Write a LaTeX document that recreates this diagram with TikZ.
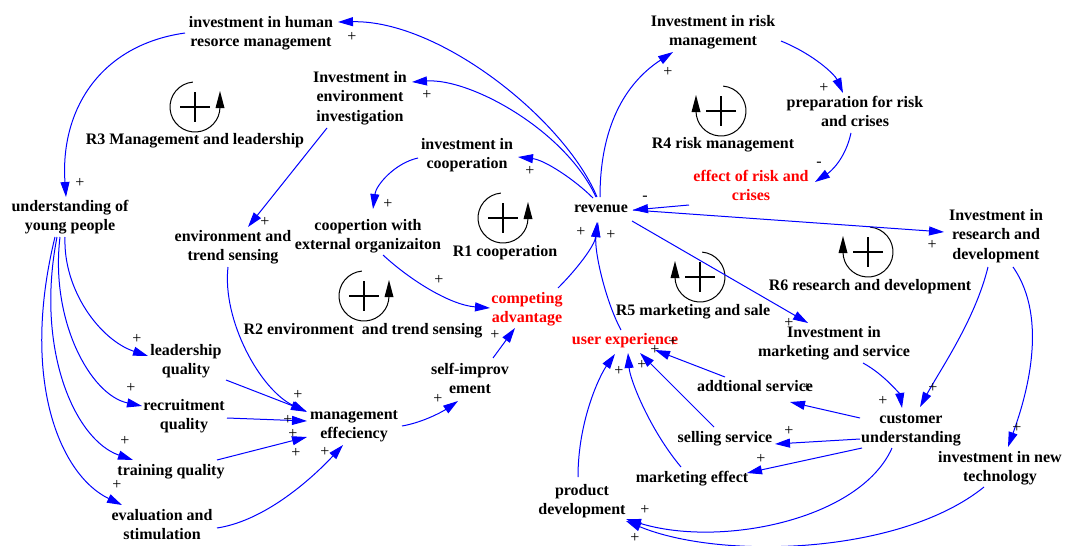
\documentclass[tikz,border=0pt]{standalone}
\usepackage{fontspec}
\setmainfont{Liberation Serif}
\usetikzlibrary{arrows.meta,calc}
\begin{document}
\begin{tikzpicture}[x=0.5pt,y=-0.5pt,
  varnode/.style={font=\bfseries\fontsize{8}{9.8}\selectfont, align=center, inner sep=0pt},
  rednode/.style={varnode, text=red},
  sign/.style={font=\fontsize{8}{9.8}\selectfont, inner sep=0pt},
  link/.style={draw=blue, line width=0.5pt, -{Triangle[length=7.5pt,width=4.5pt]}},
  loopsym/.pic={
    \draw[line width=0.5pt] (-95:25) arc[start angle=-95, end angle=-360, radius=25];
    \fill (25,-16) -- (20.5,1) -- (29.5,1) -- cycle;
    \draw[line width=1pt] (-15,0) -- (15,0) (0,-15) -- (0,15);
  }
]
\useasboundingbox (0,0) rectangle (1087,546);

% variables
\node[varnode] (hrm) at (261,33) {\strut investment in human\\\strut resorce management};
\node[varnode] (envinv) at (360,98) {\strut Investment in\\\strut environment\\\strut investigation};
\node[varnode] (coopinv) at (467,155) {\strut investment in\\\strut cooperation};
\node[varnode] (coopext) at (368,236) {\strut coopertion with\\\strut external organizaiton};
\node[varnode] (understand) at (70,217) {\strut understanding of\\\strut young people};
\node[varnode] (envsense) at (233,247) {\strut environment and\\\strut trend sensing};
\node[varnode] (revenue) at (601,209) {\strut revenue};
\node[rednode] (competing) at (527,309) {\strut competing\\\strut advantage};
\node[varnode] (selfimp) at (470,380) {\strut self-improv\\\strut ement};
\node[varnode] (mgmt) at (354,425) {\strut management\\\strut effeciency};
\node[varnode] (leadership) at (186,361) {\strut leadership\\\strut quality};
\node[varnode] (recruit) at (184,416) {\strut recruitment\\\strut quality};
\node[varnode] (training) at (171,472) {\strut training quality};
\node[varnode] (evalst) at (162,526) {\strut evaluation and\\\strut stimulation};
\node[varnode] (riskinv) at (713,32) {\strut Investment in risk\\\strut management};
\node[varnode] (prep) at (855,113) {\strut preparation for risk\\\strut and crises};
\node[rednode] (effect) at (751,187) {\strut effect of risk and\\\strut crises};
\node[varnode] (rdinv) at (996,236) {\strut Investment in\\\strut research and\\\strut development};
\node[varnode] (mktinv) at (834,343) {\strut Investment in\\\strut marketing and service};
\node[rednode] (userexp) at (625,341) {\strut user experience};
\node[varnode] (addserv) at (755,388) {\strut addtional service};
\node[varnode] (custund) at (911,429) {\strut customer\\\strut understanding};
\node[varnode] (selling) at (725,439) {\strut selling service};
\node[varnode] (mkteff) at (692,479) {\strut marketing effect};
\node[varnode] (proddev) at (582,501) {\strut product\\\strut development};
\node[varnode] (newtech) at (1000,468) {\strut investment in new\\\strut technology};

% loop symbols
\pic at (195,107) {loopsym};
\node[varnode] (lR3) at (195,141) {\strut R3 Management and leadership};
\pic at (503,218) {loopsym};
\node[varnode] (lR1) at (505,253) {\strut R1 cooperation};
\pic at (364,296) {loopsym};
\node[varnode] (lR2) at (363,331) {\strut R2 environment~ and trend sensing};
\pic[xscale=-1] at (721,111) {loopsym};
\node[varnode] (lR4) at (723,145) {\strut R4 risk management};
\pic[xscale=-1] at (700,277) {loopsym};
\node[varnode] (lR5) at (693,312) {\strut R5 marketing and sale};
\pic[xscale=-1] at (868,252) {loopsym};
\node[varnode] (lR6) at (870,287) {\strut R6 research and development};

% links
\draw[link] ($(revenue)+(-4,-12)$) .. controls (565,120) and (440,20) .. ($(hrm)+(77,-11)$);
\draw[link] ($(revenue)+(-5,-12)$) .. controls (565,130) and (470,78) .. ($(envinv)+(52,-16)$);
\draw[link] ($(revenue)+(-8,-11)$) .. controls (575,180) and (545,160) .. ($(coopinv)+(51,2)$);
\draw[link] ($(revenue)+(-1,-12)$) .. controls (600,120) and (630,80) .. ($(riskinv)+(-40,20)$);
\draw[link] ($(revenue)+(32,1)$) -- ($(rdinv)+(-52,-4)$);
\draw[link] ($(revenue)+(31,12)$) -- ($(mktinv)+(-26,-20)$);
\draw[link] ($(effect)+(-62,18)$) -- ($(revenue)+(32,1)$);
\draw[link] ($(competing)+(31,-21)$) .. controls (578,268) and (595,245) .. ($(revenue)+(-4,13)$);
\draw[link] ($(userexp)+(-4,-11)$) .. controls (605,300) and (594,250) .. ($(revenue)+(-3,13)$);
\draw[link] ($(hrm)+(-76,0)$) .. controls (100,45) and (60,110) .. ($(understand)+(-4,-20)$);
\draw[link] ($(envinv)+(-33,30)$) -- ($(envsense)+(15,-20)$);
\draw[link] ($(coopinv)+(-49,3)$) .. controls (395,163) and (376,185) .. ($(coopext)+(5,-27)$);
\draw[link] ($(coopext)+(15,19)$) .. controls (410,280) and (450,305) .. ($(competing)+(-37,-1)$);
\draw[link] ($(riskinv)+(68,9)$) .. controls (815,55) and (835,75) .. ($(prep)+(-12,-20)$);
\draw[link] ($(prep)+(-4,20)$) .. controls (845,160) and (830,172) .. ($(effect)+(64,-5)$);
\draw[link] ($(rdinv)+(-8,31)$) .. controls (975,320) and (940,370) .. ($(custund)+(9,-22)$);
\draw[link] ($(rdinv)+(17,31)$) .. controls (1050,320) and (1025,400) .. ($(newtech)+(8,-21)$);
\draw[link] ($(mktinv)+(29,20)$) .. controls (885,375) and (900,395) .. ($(custund)+(-9,-21)$);
\draw[link] ($(custund)+(-51,-11)$) -- ($(addserv)+(35,14)$);
\draw[link] ($(addserv)+(-30,-11)$) -- ($(userexp)+(30,9)$);
\draw[link] ($(selling)+(-11,-12)$) -- ($(userexp)+(15,12)$);
\draw[link] ($(mkteff)+(-11,-12)$) .. controls (650,430) and (630,380) .. ($(userexp)+(3,12)$);
\draw[link] ($(proddev)+(-4,-24)$) .. controls (578,420) and (600,375) .. ($(userexp)+(-10,13)$);
\draw[link] ($(custund)+(-51,10)$) -- ($(selling)+(50,5)$);
\draw[link] ($(custund)+(-49,19)$) -- ($(mkteff)+(55,-6)$);
\draw[link] ($(custund)+(-19,19)$) .. controls (860,520) and (720,548) .. ($(proddev)+(44,18)$);
\draw[link] ($(newtech)+(-16,19)$) .. controls (900,555) and (720,560) .. ($(proddev)+(44,20)$);
\draw[link] ($(understand)+(-5,20)$) .. controls (63,290) and (100,340) .. ($(leadership)+(-38,-5)$);
\draw[link] ($(understand)+(-10,20)$) .. controls (50,320) and (90,395) .. ($(recruit)+(-42,-10)$);
\draw[link] ($(understand)+(-13,20)$) .. controls (35,350) and (75,440) .. ($(training)+(-38,-12)$);
\draw[link] ($(understand)+(-15,20)$) .. controls (20,380) and (60,475) .. ($(evalst)+(-40,-21)$);
\draw[link] ($(envsense)+(-5,20)$) .. controls (222,320) and (260,390) .. ($(mgmt)+(-47,-13)$);
\draw[link] ($(leadership)+(40,19)$) -- ($(mgmt)+(-48,-14)$);
\draw[link] ($(recruit)+(43,2)$) -- ($(mgmt)+(-47,-4)$);
\draw[link] ($(training)+(46,-12)$) -- ($(mgmt)+(-47,12)$);
\draw[link] ($(evalst)+(55,2)$) .. controls (270,520) and (320,470) .. ($(mgmt)+(-11,20)$);
\draw[link] ($(mgmt)+(48,1)$) .. controls (425,422) and (445,410) .. ($(selfimp)+(-12,21)$);
\draw[link] ($(selfimp)+(23,-22)$) -- ($(competing)+(-12,19)$);

% polarity signs
\node[sign] (p1) at (352,37) {+};
\node[sign] (p2) at (427,95) {+};
\node[sign] (p3) at (530,171) {+};
\node[sign] (p4) at (668,72) {+};
\node[sign] (p5) at (932,245) {+};
\node[sign] (p6) at (789,323) {+};
\node[sign] (p7) at (645,198) {-};
\node[sign] (p8) at (581,232) {+};
\node[sign] (p9) at (611,235) {+};
\node[sign] (p10) at (80,183) {+};
\node[sign] (p11) at (265,222) {+};
\node[sign] (p12) at (388,204) {+};
\node[sign] (p13) at (439,280) {+};
\node[sign] (p14) at (824,88) {+};
\node[sign] (p15) at (819,164) {-};
\node[sign] (p16) at (933,388) {+};
\node[sign] (p17) at (1017,428) {+};
\node[sign] (p18) at (883,401) {+};
\node[sign] (p19) at (807,388) {+};
\node[sign] (p20) at (673,342) {+};
\node[sign] (p21) at (655,350) {+};
\node[sign] (p22) at (642,365) {+};
\node[sign] (p23) at (619,371) {+};
\node[sign] (p24) at (789,431) {+};
\node[sign] (p25) at (761,459) {+};
\node[sign] (p26) at (645,510) {+};
\node[sign] (p27) at (635,538) {+};
\node[sign] (p28) at (137,339) {+};
\node[sign] (p29) at (131,388) {+};
\node[sign] (p30) at (125,441) {+};
\node[sign] (p31) at (117,485) {+};
\node[sign] (p32) at (298,395) {+};
\node[sign] (p33) at (288,420) {+};
\node[sign] (p34) at (293,434) {+};
\node[sign] (p35) at (296,453) {+};
\node[sign] (p36) at (325,452) {+};
\node[sign] (p37) at (438,399) {+};
\node[sign] (p38) at (495,335) {+};
\end{tikzpicture}
\end{document}
